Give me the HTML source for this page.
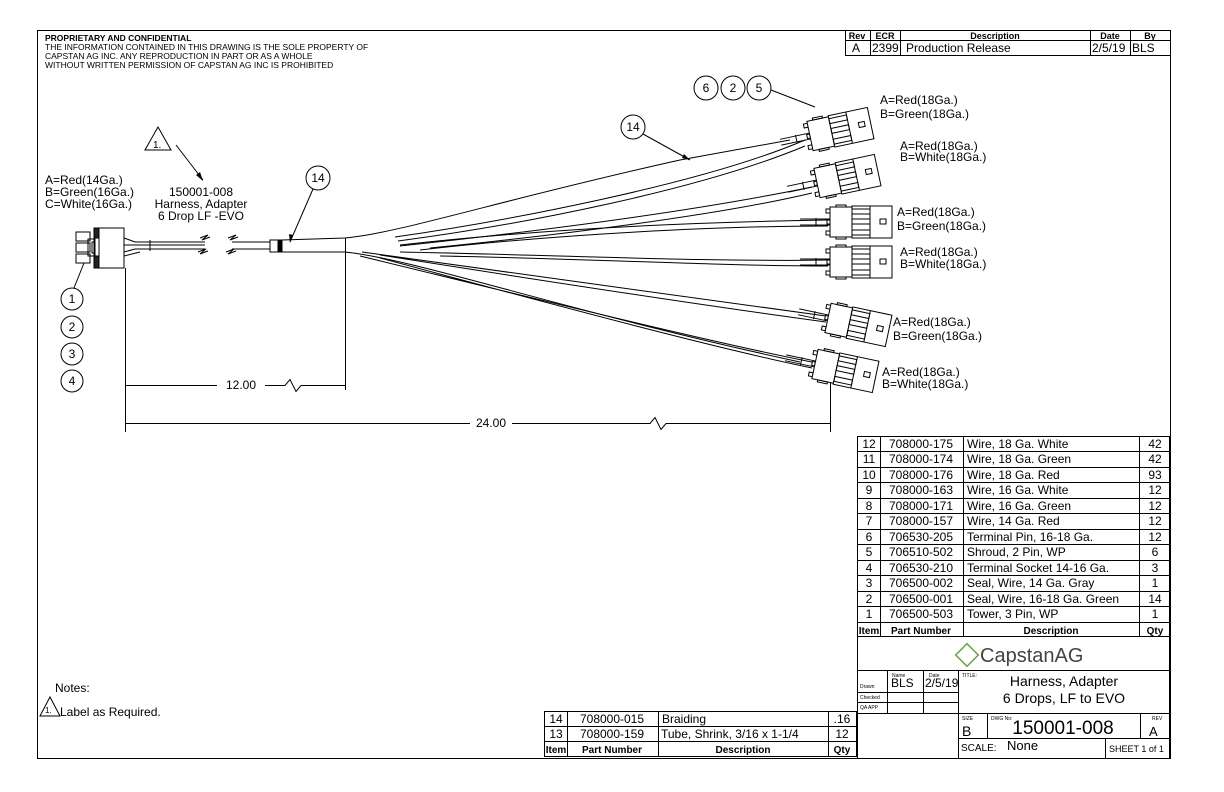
<!DOCTYPE html>
<html><head><meta charset="utf-8"><style>
html,body{margin:0;padding:0;background:#fff}
svg{display:block}
text{font-family:"Liberation Sans",sans-serif;fill:#000}
</style></head><body>
<svg width="1224" height="792" viewBox="0 0 1224 792" xmlns="http://www.w3.org/2000/svg">
<defs>
<g id="con" fill="none" stroke="#000" stroke-width="1">
<line x1="-30" y1="-3" x2="0" y2="-3"/><line x1="-30" y1="3" x2="0" y2="3"/>
<line x1="-14" y1="-4" x2="-14" y2="4"/>
<rect x="-4" y="-13" width="4" height="4"/><rect x="-4" y="9" width="4" height="4"/><rect x="-3" y="-2" width="3" height="4"/>
<rect x="0" y="-15" width="22" height="30" fill="#fff"/>
<rect x="22" y="-16" width="40" height="32" fill="#fff"/>
<rect x="22" y="-13" width="18" height="5"/><rect x="22" y="-3" width="18" height="5"/><rect x="22" y="8" width="18" height="5"/>
<rect x="50" y="-3" width="6" height="5"/>
<line x1="40" y1="-16" x2="40" y2="16"/>
<rect x="6" y="-17" width="10" height="2"/><rect x="6" y="15" width="10" height="2"/>
</g>
</defs>
<g fill="none" stroke="#000" stroke-width="1">
<rect x="37.5" y="30.5" width="1133" height="728"/>
<rect x="845.5" y="30.5" width="325" height="25"/>
<line x1="845" y1="40.5" x2="1171" y2="40.5"/>
<line x1="870.5" y1="30" x2="870.5" y2="56"/><line x1="900.5" y1="30" x2="900.5" y2="56"/>
<line x1="1090.5" y1="30" x2="1090.5" y2="56"/><line x1="1130.5" y1="30" x2="1130.5" y2="56"/>
<rect x="76" y="232" width="14" height="9"/><rect x="76" y="243" width="14" height="9"/><rect x="76" y="254" width="14" height="9"/>
<rect x="88" y="239" width="14" height="17"/><rect x="92" y="242" width="6" height="11"/>
<rect x="94" y="228" width="5" height="40" fill="#222"/>
<rect x="99" y="228" width="25" height="40" fill="#fff"/>
<rect x="95" y="238" width="4" height="18" fill="#fff"/>
<path d="M124 238 L135 242 L205 242 M124 245 L205 245 M124 252 L135 249 L205 249 M124 256 L140 252"/>
<line x1="150" y1="240" x2="150" y2="251"/>
<path d="M200 238 l8 -3 l-6 5 l8 -3 M198 252 l8 -3 l-6 5 l8 -3 M228 238 l8 -3 l-6 5 l8 -3 M226 252 l8 -3 l-6 5 l8 -3"/>
<path d="M232 242 L270 242 M232 249 L270 249"/>
<rect x="270" y="240" width="12" height="12"/><rect x="278" y="240" width="4" height="12" fill="#000"/>
<path d="M282 240 L345 238 C400 233 500 200 680 160 L790 140 M282 252 L345 252 C420 260 560 310 800 362"/>
<line x1="345.5" y1="238" x2="345.5" y2="390"/>
<path d="M395 237 C500 222 700 185 805 140 M398 241 C520 225 700 190 805 146"/>
<path d="M400 246 C550 230 700 210 812 187 M430 248 C560 235 720 215 812 193"/>
<path d="M400 245 C550 228 700 222 828 220 M420 250 C560 234 720 226 828 226"/>
<path d="M400 252 C560 255 700 262 828 260 M440 256 C600 259 720 266 828 266"/>
<path d="M362 252 C500 270 700 300 826 316 M380 255 C500 274 700 305 826 322"/>
<path d="M360 256 C480 285 700 340 812 362 M380 258 C500 290 700 345 812 368"/>
<line x1="125.5" y1="268" x2="125.5" y2="432"/>
<line x1="830.5" y1="360" x2="830.5" y2="432"/>
<path d="M125 385.5 L217 385.5 M265 385.5 L285 385.5 l5 -6 l6 12 l5 -6 L345 385.5"/>
<path d="M125 423.5 L470 423.5 M512 423.5 L650 423.5 l5 -6 l6 12 l5 -6 L830 423.5"/>
<circle cx="72" cy="299" r="11"/><circle cx="72" cy="327" r="11"/><circle cx="72" cy="354" r="11"/><circle cx="72" cy="381" r="11"/>
<line x1="74" y1="288" x2="84" y2="263"/>
<circle cx="318" cy="178" r="12"/><line x1="313" y1="189" x2="290" y2="242"/>
<circle cx="633" cy="127" r="12"/><line x1="643" y1="134" x2="690" y2="160"/>
<circle cx="706" cy="88" r="12"/><circle cx="733" cy="88" r="12"/><circle cx="759" cy="88" r="12"/>
<line x1="771" y1="90" x2="815" y2="107"/>
<path d="M158 127 L145 150 L171 150 Z"/><line x1="176" y1="145" x2="203" y2="180"/>
<path d="M50 697 L40 716 L60 716 Z"/>
<rect x="857.5" y="436.5" width="312" height="200"/>
<line x1="880.5" y1="436" x2="880.5" y2="637"/><line x1="963.5" y1="436" x2="963.5" y2="637"/><line x1="1139.5" y1="436" x2="1139.5" y2="637"/>
<rect x="857.5" y="636.5" width="312" height="122"/>
<line x1="857" y1="670.5" x2="1170" y2="670.5"/>
<line x1="958.5" y1="670" x2="958.5" y2="759"/>
<line x1="857" y1="713.5" x2="1170" y2="713.5"/>
<line x1="857" y1="692.5" x2="958" y2="692.5"/><line x1="857" y1="702.5" x2="958" y2="702.5"/>
<line x1="887.5" y1="670" x2="887.5" y2="713"/><line x1="923.5" y1="670" x2="923.5" y2="713"/>
<line x1="958" y1="738.5" x2="1170" y2="738.5"/>
<line x1="987.5" y1="713" x2="987.5" y2="738"/><line x1="1140.5" y1="713" x2="1140.5" y2="738"/>
<line x1="1105.5" y1="738" x2="1105.5" y2="759"/>
<rect x="544.5" y="711.5" width="312" height="45"/>
<line x1="544" y1="726.5" x2="857" y2="726.5"/><line x1="544" y1="741.5" x2="857" y2="741.5"/>
<line x1="567.5" y1="711" x2="567.5" y2="757"/><line x1="658.5" y1="711" x2="658.5" y2="757"/><line x1="828.5" y1="711" x2="828.5" y2="757"/>
</g>
<path d="M203 181 L196 175 L200 172 Z" fill="#000"/>
<path d="M290 243 L289 234 L293 235 Z" fill="#000"/>
<path d="M690 160 L682 158 L684 154 Z" fill="#000"/>
<g stroke="#000" stroke-width="1">
<line x1="857" y1="451.5" x2="1170" y2="451.5"/><line x1="857" y1="467.5" x2="1170" y2="467.5"/><line x1="857" y1="482.5" x2="1170" y2="482.5"/>
<line x1="857" y1="498.5" x2="1170" y2="498.5"/><line x1="857" y1="513.5" x2="1170" y2="513.5"/><line x1="857" y1="529.5" x2="1170" y2="529.5"/>
<line x1="857" y1="544.5" x2="1170" y2="544.5"/><line x1="857" y1="560.5" x2="1170" y2="560.5"/><line x1="857" y1="575.5" x2="1170" y2="575.5"/>
<line x1="857" y1="591.5" x2="1170" y2="591.5"/><line x1="857" y1="606.5" x2="1170" y2="606.5"/><line x1="857" y1="622.5" x2="1170" y2="622.5"/>
</g>
<use href="#con" transform="translate(810,136) rotate(-12)"/>
<use href="#con" transform="translate(817,183) rotate(-12)"/>
<use href="#con" transform="translate(830,222)"/>
<use href="#con" transform="translate(830,262)"/>
<use href="#con" transform="translate(828,318) rotate(12)"/>
<use href="#con" transform="translate(815,364) rotate(12)"/>
<g font-size="8.5">
<text x="45" y="41" font-weight="bold">PROPRIETARY AND CONFIDENTIAL</text>
<text x="45" y="50">THE INFORMATION CONTAINED IN THIS DRAWING IS THE SOLE PROPERTY OF</text>
<text x="45" y="59">CAPSTAN AG INC. ANY REPRODUCTION IN PART OR AS A WHOLE</text>
<text x="45" y="68">WITHOUT WRITTEN PERMISSION OF CAPSTAN AG INC IS PROHIBITED</text>
</g>
<g font-size="9" font-weight="bold" text-anchor="middle">
<text x="857" y="39">Rev</text><text x="885" y="39">ECR</text><text x="995" y="39">Description</text><text x="1110" y="39">Date</text><text x="1150" y="39">By</text>
</g>
<g font-size="12">
<text x="852" y="52">A</text><text x="872" y="52">2399</text><text x="906" y="52">Production Release</text><text x="1092" y="52">2/5/19</text><text x="1132" y="52">BLS</text>
<text x="45" y="184">A=Red(14Ga.)</text><text x="45" y="196">B=Green(16Ga.)</text><text x="45" y="208">C=White(16Ga.)</text>
<g text-anchor="middle"><text x="201" y="196">150001-008</text><text x="201" y="208">Harness, Adapter</text><text x="201" y="220">6 Drop LF -EVO</text>
<text x="72" y="303">1</text><text x="72" y="331">2</text><text x="72" y="358">3</text><text x="72" y="385">4</text>
<text x="318" y="182">14</text><text x="633" y="131">14</text>
<text x="706" y="92">6</text><text x="733" y="92">2</text><text x="759" y="92">5</text>
<text x="241" y="389">12.00</text><text x="491" y="427">24.00</text></g>
<text x="153" y="148" font-size="10">1.</text>
<text x="880" y="104">A=Red(18Ga.)</text><text x="880" y="118">B=Green(18Ga.)</text>
<text x="900" y="150">A=Red(18Ga.)</text><text x="900" y="161">B=White(18Ga.)</text>
<text x="897" y="216">A=Red(18Ga.)</text><text x="897" y="230">B=Green(18Ga.)</text>
<text x="900" y="256">A=Red(18Ga.)</text><text x="900" y="268">B=White(18Ga.)</text>
<text x="893" y="326">A=Red(18Ga.)</text><text x="893" y="340">B=Green(18Ga.)</text>
<text x="882" y="376">A=Red(18Ga.)</text><text x="882" y="388">B=White(18Ga.)</text>
<text x="55" y="692">Notes:</text><text x="60" y="716">Label as Required.</text>
</g>
<text x="45" y="713" font-size="8">1.</text>
<g font-size="12">
<g text-anchor="middle">
<text x="869" y="448">12</text><text x="869" y="463">11</text><text x="869" y="479">10</text><text x="869" y="494">9</text><text x="869" y="510">8</text><text x="869" y="525">7</text><text x="869" y="541">6</text><text x="869" y="556">5</text><text x="869" y="572">4</text><text x="869" y="587">3</text><text x="869" y="603">2</text><text x="869" y="618">1</text>
<text x="921" y="448">708000-175</text><text x="921" y="463">708000-174</text><text x="921" y="479">708000-176</text><text x="921" y="494">708000-163</text><text x="921" y="510">708000-171</text><text x="921" y="525">708000-157</text><text x="921" y="541">706530-205</text><text x="921" y="556">706510-502</text><text x="921" y="572">706530-210</text><text x="921" y="587">706500-002</text><text x="921" y="603">706500-001</text><text x="921" y="618">706500-503</text>
<text x="1155" y="448">42</text><text x="1155" y="463">42</text><text x="1155" y="479">93</text><text x="1155" y="494">12</text><text x="1155" y="510">12</text><text x="1155" y="525">12</text><text x="1155" y="541">12</text><text x="1155" y="556">6</text><text x="1155" y="572">3</text><text x="1155" y="587">1</text><text x="1155" y="603">14</text><text x="1155" y="618">1</text>
<text x="556" y="723">14</text><text x="556" y="738">13</text><text x="612" y="723">708000-015</text><text x="612" y="738">708000-159</text><text x="842" y="723">.16</text><text x="842" y="738">12</text>
</g>
<text x="967" y="448">Wire, 18 Ga. White</text><text x="967" y="463">Wire, 18 Ga. Green</text><text x="967" y="479">Wire, 18 Ga. Red</text><text x="967" y="494">Wire, 16 Ga. White</text><text x="967" y="510">Wire, 16 Ga. Green</text><text x="967" y="525">Wire, 14 Ga. Red</text><text x="967" y="541">Terminal Pin, 16-18 Ga.</text><text x="967" y="556">Shroud, 2 Pin, WP</text><text x="967" y="572">Terminal Socket 14-16 Ga.</text><text x="967" y="587">Seal, Wire, 14 Ga. Gray</text><text x="967" y="603">Seal, Wire, 16-18 Ga. Green</text><text x="967" y="618">Tower, 3 Pin, WP</text>
<text x="662" y="723">Braiding</text><text x="661" y="738">Tube, Shrink, 3/16 x 1-1/4</text>
</g>
<g font-size="10" font-weight="bold" text-anchor="middle">
<text x="869" y="634">Item</text><text x="921" y="634">Part Number</text><text x="1051" y="634">Description</text><text x="1155" y="634">Qty</text>
<text x="556" y="753">Item</text><text x="612" y="753">Part Number</text><text x="743" y="753">Description</text><text x="842" y="753">Qty</text>
</g>
<g transform="translate(967,655) rotate(45)" fill="none" stroke="#6a9f4a" stroke-width="1.5"><rect x="-8" y="-8" width="16" height="16"/></g>
<text x="980" y="662" font-size="20" style="fill:#444">CapstanAG</text>
<g font-size="5">
<text x="860" y="688">Drawn</text><text x="860" y="699">Checked</text><text x="860" y="709">QA APP</text>
<text x="892" y="677">Name</text><text x="929" y="677">Date</text><text x="962" y="677">TITLE:</text>
<text x="962" y="720">SIZE</text><text x="991" y="720">DWG No:</text><text x="1152" y="720">REV</text>
</g>
<text x="891" y="687" font-size="12">BLS</text><text x="925" y="687" font-size="12">2/5/19</text>
<g font-size="14" text-anchor="middle"><text x="1064" y="686">Harness, Adapter</text><text x="1064" y="703">6 Drops, LF to EVO</text></g>
<text x="962" y="736" font-size="14">B</text>
<text x="1063" y="734" font-size="19" text-anchor="middle">150001-008</text>
<text x="1149" y="736" font-size="13">A</text>
<text x="961" y="751" font-size="10">SCALE:</text><text x="1007" y="750" font-size="13">None</text>
<text x="1109" y="752" font-size="9">SHEET 1 of 1</text>
</svg>
</body></html>
